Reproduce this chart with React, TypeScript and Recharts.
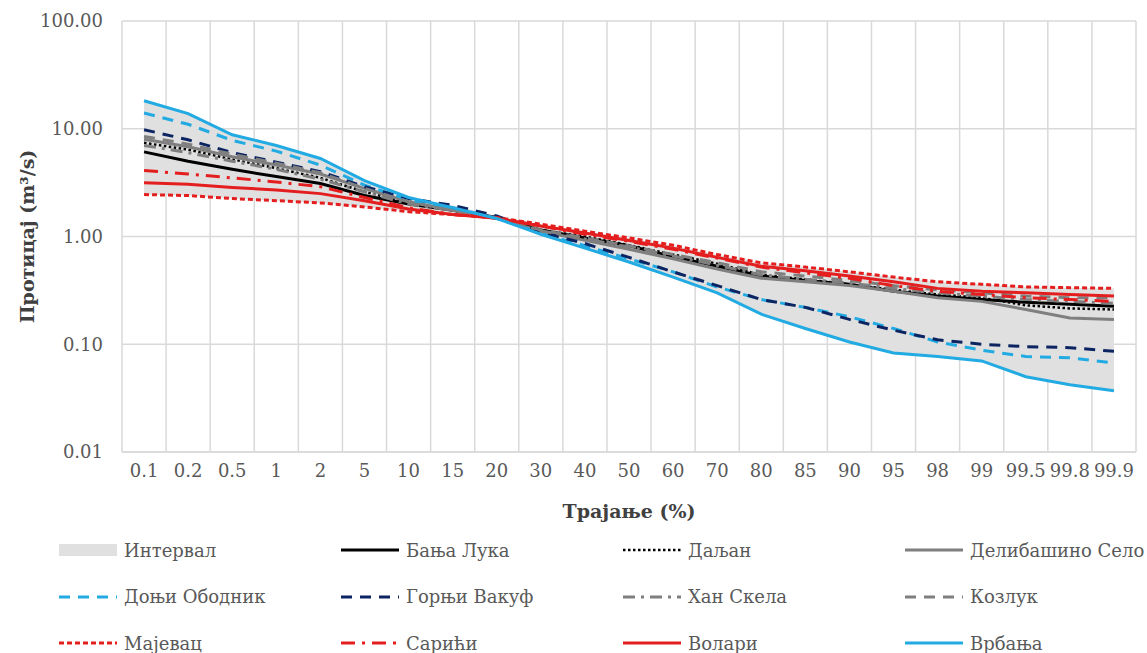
import { ComposedChart, Line, Area, XAxis, YAxis, CartesianGrid, Legend } from 'recharts';

const categories = ['0.1', '0.2', '0.5', '1', '2', '5', '10', '15', '20', '30', '40', '50', '60', '70', '80', '85', '90', '95', '98', '99', '99.5', '99.8', '99.9'];

const banjaLuka = [6.1, 5.0, 4.2, 3.6, 3.1, 2.4, 2.0, 1.75, 1.5, 1.15, 0.97, 0.82, 0.65, 0.53, 0.43, 0.39, 0.36, 0.31, 0.28, 0.26, 0.245, 0.235, 0.225];
const daljan = [7.4, 6.4, 5.2, 4.3, 3.5, 2.6, 2.05, 1.75, 1.5, 1.15, 1.0, 0.83, 0.68, 0.56, 0.44, 0.4, 0.36, 0.32, 0.29, 0.27, 0.23, 0.215, 0.21];
const delibasinoSelo = [8.0, 6.8, 5.5, 4.6, 3.8, 2.8, 2.1, 1.75, 1.48, 1.12, 0.92, 0.76, 0.62, 0.5, 0.41, 0.38, 0.35, 0.31, 0.27, 0.25, 0.21, 0.175, 0.17];
const donjiObodnik = [14.0, 11.0, 7.8, 6.2, 4.6, 3.0, 2.2, 1.85, 1.47, 1.07, 0.82, 0.62, 0.47, 0.34, 0.26, 0.22, 0.18, 0.14, 0.105, 0.088, 0.077, 0.075, 0.067];
const gornjiVakuf = [9.8, 7.9, 6.0, 4.9, 4.0, 2.9, 2.25, 1.95, 1.55, 1.1, 0.86, 0.64, 0.47, 0.35, 0.26, 0.22, 0.17, 0.135, 0.11, 0.1, 0.095, 0.093, 0.086];
const hanSkela = [7.0, 6.0, 5.0, 4.2, 3.4, 2.6, 2.0, 1.75, 1.48, 1.13, 0.95, 0.8, 0.66, 0.54, 0.44, 0.4, 0.37, 0.33, 0.3, 0.28, 0.26, 0.25, 0.24];
const kozluk = [8.5, 7.2, 5.8, 4.8, 3.9, 2.8, 2.1, 1.75, 1.48, 1.15, 0.97, 0.82, 0.68, 0.57, 0.47, 0.43, 0.39, 0.35, 0.32, 0.3, 0.28, 0.27, 0.27];
const majevac = [2.45, 2.4, 2.25, 2.15, 2.05, 1.88, 1.7, 1.6, 1.5, 1.3, 1.12, 0.97, 0.83, 0.68, 0.57, 0.52, 0.47, 0.42, 0.38, 0.36, 0.34, 0.335, 0.33];
const sarici = [4.1, 3.8, 3.5, 3.2, 2.9, 2.3, 1.85, 1.6, 1.48, 1.25, 1.05, 0.9, 0.76, 0.63, 0.52, 0.46, 0.41, 0.35, 0.31, 0.29, 0.27, 0.26, 0.25];
const volari = [3.15, 3.05, 2.85, 2.7, 2.5, 2.15, 1.8, 1.6, 1.48, 1.25, 1.08, 0.92, 0.78, 0.64, 0.53, 0.48, 0.43, 0.38, 0.33, 0.31, 0.3, 0.29, 0.28];
const vrbanja = [18.2, 13.8, 8.8, 7.0, 5.3, 3.3, 2.3, 1.85, 1.47, 1.05, 0.78, 0.58, 0.42, 0.3, 0.19, 0.14, 0.105, 0.083, 0.077, 0.07, 0.05, 0.042, 0.037];

const yTicks = [0.01, 0.1, 1, 10, 100];

const FONT = "'DejaVu Serif', serif";
const TEXT = '#595959';
const RED = '#e41e1e';
const LIGHT_BLUE = '#22aae2';
const NAVY = '#0c2461';
const GRAY = '#7f7f7f';

const series = [
  { key: 'banjaLuka', name: 'Бања Лука', data: banjaLuka, color: '#000000', dash: undefined, width: 3 },
  { key: 'daljan', name: 'Даљан', data: daljan, color: '#000000', dash: '2.5 2.5', width: 2.5 },
  { key: 'delibasinoSelo', name: 'Делибашино Село', data: delibasinoSelo, color: GRAY, dash: undefined, width: 3 },
  { key: 'donjiObodnik', name: 'Доњи Ободник', data: donjiObodnik, color: LIGHT_BLUE, dash: '11 8', width: 3 },
  { key: 'gornjiVakuf', name: 'Горњи Вакуф', data: gornjiVakuf, color: NAVY, dash: '11 8', width: 3 },
  { key: 'hanSkela', name: 'Хан Скела', data: hanSkela, color: GRAY, dash: '12 6 3 6', width: 3 },
  { key: 'kozluk', name: 'Козлук', data: kozluk, color: GRAY, dash: '11 8', width: 3 },
  { key: 'majevac', name: 'Мајевац', data: majevac, color: RED, dash: '5 3', width: 3 },
  { key: 'sarici', name: 'Сарићи', data: sarici, color: RED, dash: '14 7 3 7', width: 3 },
  { key: 'volari', name: 'Волари', data: volari, color: RED, dash: undefined, width: 3 },
  { key: 'vrbanja', name: 'Врбања', data: vrbanja, color: LIGHT_BLUE, dash: undefined, width: 3 },
];

const rows = categories.map((cat, i) => {
  const vals = series.map((s) => s.data[i]);
  const row: Record<string, unknown> = { cat, interval: [Math.min(...vals), Math.max(...vals)] };
  series.forEach((s) => { row[s.key] = s.data[i]; });
  return row;
});

const legendItems = [
  { name: 'Интервал', area: true, color: '#e0e0e0', dash: undefined as string | undefined, width: 0 },
  ...series.map((s) => ({ name: s.name, area: false, color: s.color, dash: s.dash, width: s.width })),
];

function ChartLegend() {
  return (
    <div style={{ display: 'grid', gridTemplateColumns: 'repeat(4, 282px)', paddingLeft: 59, rowGap: 0 }}>
      {legendItems.map((it) => (
        <div key={it.name} style={{ display: 'flex', alignItems: 'center', height: 46.5 }}>
          <svg width={58} height={14} style={{ marginRight: 7 }}>
            {it.area ? (
              <rect x={0} y={1} width={58} height={12} fill={it.color} />
            ) : (
              <line x1={0} y1={7} x2={58} y2={7} stroke={it.color} strokeWidth={it.width} strokeDasharray={it.dash} />
            )}
          </svg>
          <span style={{ fontFamily: FONT, fontSize: 18, color: TEXT, whiteSpace: 'nowrap' }}>{it.name}</span>
        </div>
      ))}
    </div>
  );
}

export default function App() {
  return (
    <div style={{ position: 'absolute', left: 0, top: 0, width: 1147, height: 653, background: '#fff' }}>
      <ComposedChart width={1147} height={653} data={rows} margin={{ top: 21, right: 11, left: 0, bottom: 121 }}>
        <CartesianGrid
          stroke="#d9d9d9"
          strokeWidth={1.5}
          verticalCoordinatesGenerator={(props: any) => {
            const { offset } = props;
            return categories.concat(['']).map((_, i) => offset.left + (i * offset.width) / categories.length);
          }}
        />
        <XAxis
          dataKey="cat"
          scale="band"
          interval={0}
          tickLine={false}
          tickSize={0}
          tickMargin={12}
          axisLine={{ stroke: '#d9d9d9', strokeWidth: 1.5 }}
          tick={{ fill: TEXT, fontSize: 18, fontFamily: FONT }}
          height={80}
          label={{
            content: (p: any) => (
              <text
                x={p.viewBox.x + p.viewBox.width / 2}
                y={p.viewBox.y + 66}
                textAnchor="middle"
                fill="#404040"
                fontFamily={FONT}
                fontWeight="bold"
                fontSize={19}
              >
                Трајање (%)
              </text>
            ),
          }}
        />
        <YAxis
          scale="log"
          domain={[0.01, 100]}
          ticks={yTicks}
          allowDataOverflow
          width={122}
          axisLine={false}
          tickLine={false}
          tickSize={0}
          tickMargin={19}
          tickFormatter={(v: number) => v.toFixed(2)}
          tick={{ fill: TEXT, fontSize: 18, fontFamily: FONT }}
          label={{
            content: (p: any) => {
              const cx = p.viewBox.x + 34;
              const cy = p.viewBox.y + p.viewBox.height / 2;
              return (
                <text
                  x={cx}
                  y={cy}
                  transform={`rotate(-90, ${cx}, ${cy})`}
                  textAnchor="middle"
                  fill="#404040"
                  fontFamily={FONT}
                  fontWeight="bold"
                  fontSize={19}
                >
                  Протицај (m³/s)
                </text>
              );
            },
          }}
        />
        <Legend verticalAlign="middle" wrapperStyle={{ top: 527, left: 0, width: 1147 }} content={() => <ChartLegend />} />
        <Area dataKey="interval" name="Интервал" fill="#e0e0e0" fillOpacity={1} stroke="none" isAnimationActive={false} />
        {series.map((s) => (
          <Line
            key={s.key}
            dataKey={s.key}
            name={s.name}
            stroke={s.color}
            strokeWidth={s.width}
            strokeDasharray={s.dash}
            dot={false}
            activeDot={false}
            type="linear"
            isAnimationActive={false}
          />
        ))}
      </ComposedChart>
    </div>
  );
}
